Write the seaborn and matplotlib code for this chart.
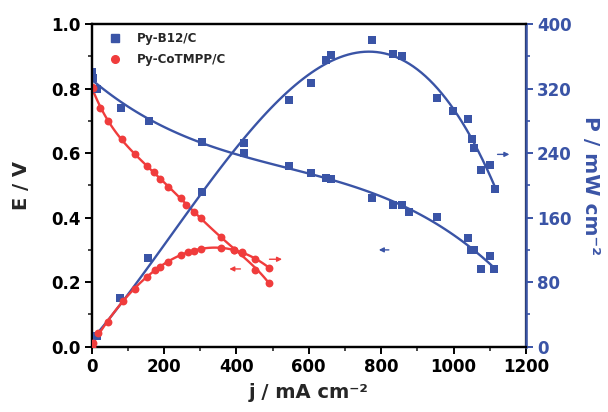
import numpy as np
import pandas as pd
import matplotlib
matplotlib.use("Agg")
import matplotlib.pyplot as plt
import seaborn as sns
from matplotlib.ticker import MultipleLocator, FormatStrFormatter
from matplotlib.lines import Line2D

# ---- data ----
b12_j_E = [0, 3, 14, 81, 159, 304, 421, 546, 606, 648, 661, 776, 833, 857, 877, 953, 1041, 1048, 1057, 1076, 1100, 1112]
b12_E = [0.852, 0.833, 0.798, 0.740, 0.698, 0.635, 0.600, 0.560, 0.537, 0.522, 0.521, 0.460, 0.439, 0.439, 0.418,
         0.403, 0.338, 0.300, 0.300, 0.240, 0.281, 0.240]
b12_j_P = [0, 14, 80, 156, 306, 421, 546, 606, 648, 661, 776, 833, 857, 953, 999, 1041, 1052, 1057, 1076, 1100, 1114]
b12_P = [0, 13, 60, 109.5, 192, 252, 306, 326.5, 355, 361.6, 380, 362.5, 360.4, 308, 292.6, 282, 258, 246, 219, 225, 196]

co_j = [0, 4, 22.6, 45.6, 84, 121, 154, 173, 188, 211, 246, 262, 283, 303, 358, 395, 415.6, 451.5, 491]
co_E = [0.805, 0.801, 0.739, 0.700, 0.644, 0.597, 0.561, 0.540, 0.520, 0.496, 0.460, 0.439, 0.418, 0.398,
        0.341, 0.300, 0.289, 0.238, 0.198]
co_j_P = [0, 4, 18, 45.6, 87, 119, 154, 174.5, 188, 211, 246, 266, 283, 303, 358, 395, 415.6, 451.5, 491]
co_P = [0, 4, 16.6, 31, 56.6, 72, 86.8, 95, 99, 105, 113.7, 117.8, 119, 120.7, 122.3, 119.9, 117.8, 108.3, 98]

labels = ["Py-B12/C", "Py-CoTMPP/C"]

# arrows: (x_start, x_end, E-level) in data units of the E axis
arrows_blue = [(829, 786, 0.300), (1114, 1162, 0.596)]
arrows_red = [(484, 534, 0.271), (419, 373, 0.241)]

BLUE = "#3a54a6"
RED = "#f03c3c"

sns.set_style("ticks")
plt.rcParams["font.family"] = ["DejaVu Sans"]
plt.rcParams["font.weight"] = "bold"
plt.rcParams["axes.labelweight"] = "bold"

fig = plt.figure(figsize=(6.08, 4.12), dpi=100)
ax = fig.add_axes([0.1505, 0.1585, 0.865 - 0.1505, 0.9417 - 0.1585])
ax2 = ax.twinx()

sk = dict(s=32, linewidths=0, zorder=3, alpha=1)
lk = dict(lw=1.7)

# Py-B12/C
sns.regplot(x=b12_j_E, y=b12_E, ax=ax, order=3, ci=None, color=BLUE,
            marker="s", scatter_kws=sk, line_kws=lk)
sns.regplot(x=b12_j_P, y=b12_P, ax=ax2, order=3, ci=None, color=BLUE,
            marker="s", scatter_kws=sk, line_kws=lk)
# Py-CoTMPP/C
sns.regplot(x=co_j, y=co_E, ax=ax, order=5, ci=None, color=RED,
            marker="o", scatter_kws=sk, line_kws=lk)
sns.regplot(x=co_j_P, y=co_P, ax=ax2, order=4, ci=None, color=RED,
            marker="o", scatter_kws=sk, line_kws=lk)

for x0, x1, e in arrows_blue:
    ax.annotate("", xy=(x1, e), xytext=(x0, e),
                arrowprops=dict(arrowstyle="-|>", color=BLUE, lw=1.0, mutation_scale=7))
for x0, x1, e in arrows_red:
    ax.annotate("", xy=(x1, e), xytext=(x0, e),
                arrowprops=dict(arrowstyle="-|>", color=RED, lw=1.0, mutation_scale=7))

ax.set_xlim(0, 1200)
ax.set_ylim(0, 1.0)
ax2.set_ylim(0, 400)
ax.xaxis.set_major_locator(MultipleLocator(200))
ax.xaxis.set_minor_locator(MultipleLocator(100))
ax.yaxis.set_major_locator(MultipleLocator(0.2))
ax.yaxis.set_minor_locator(MultipleLocator(0.1))
ax2.yaxis.set_major_locator(MultipleLocator(80))
ax2.yaxis.set_minor_locator(MultipleLocator(40))
ax.yaxis.set_major_formatter(FormatStrFormatter("%.1f"))

for a in (ax, ax2):
    for s in a.spines.values():
        s.set_linewidth(1.6)
        s.set_color("black")
        s.set_visible(True)
ax2.spines["right"].set_color(BLUE)
ax2.spines["right"].set_linewidth(1.8)

ax.tick_params(axis="both", which="major", direction="out", length=5, width=1.4,
               labelsize=12, colors="black", top=False, right=False, pad=3)
ax.tick_params(axis="both", which="minor", direction="out", length=3, width=1.2, top=False, right=False)
ax2.tick_params(axis="y", which="major", direction="out", length=5, width=1.4,
                labelsize=12, colors=BLUE, labelcolor=BLUE, pad=3)
ax2.tick_params(axis="y", which="minor", direction="out", length=3, width=1.2, colors=BLUE)
for t in ax.get_xticklabels() + ax.get_yticklabels() + ax2.get_yticklabels():
    t.set_fontweight("bold")

ax.set_xlabel("j / mA cm\u207b\u00b2", fontsize=14, fontweight="bold", labelpad=5)
ax.set_ylabel("E / V", fontsize=14, fontweight="bold", labelpad=14)
ax2.set_ylabel("P / mW cm\u207b\u00b2", fontsize=14.5, fontweight="bold", color=BLUE,
               rotation=270, labelpad=20)

# legend
handles = [Line2D([], [], ls="none", marker="s", color=BLUE, markersize=5.5),
           Line2D([], [], ls="none", marker="o", color=RED, markersize=5.5)]
leg = ax.legend(handles, labels, loc="upper left", frameon=False, fontsize=8.6,
                handlelength=1.0, handletextpad=1.4, borderaxespad=0.3, labelspacing=0.65,
                bbox_to_anchor=(0.02, 1.0))
for t in leg.get_texts():
    t.set_fontweight("bold")

fig.savefig("out.png", dpi=100)
